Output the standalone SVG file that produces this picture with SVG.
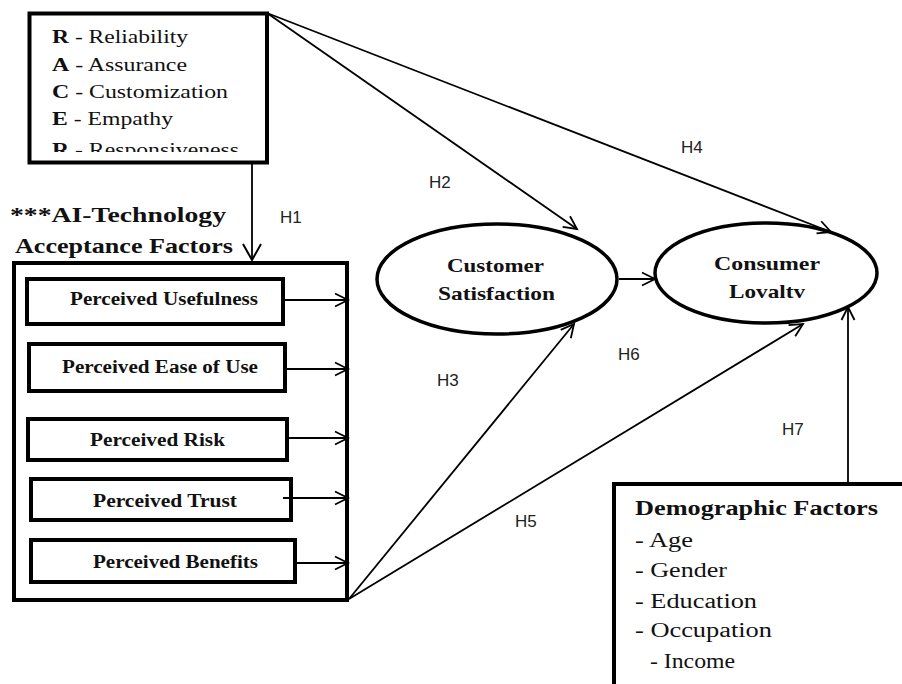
<svg xmlns="http://www.w3.org/2000/svg" width="902" height="684" viewBox="0 0 902 684">
<style>
.box{fill:#fff;stroke:#000;stroke-width:4}
.ell{fill:#fff;stroke:#000;stroke-width:3.5}
.ln{fill:none;stroke:#000;stroke-width:1.8}
.ser{font-family:"Liberation Serif","Times New Roman",serif;fill:#111}
.b{font-weight:bold}
.h{font-family:"Liberation Sans",Arial,sans-serif;font-size:17px;fill:#222}
</style>
<defs>
<marker id="ah" markerUnits="userSpaceOnUse" markerWidth="16" markerHeight="16" refX="14" refY="8" orient="auto" overflow="visible">
<path d="M1,1.5 L14,8 L1,14.5" fill="none" stroke="#000" stroke-width="1.8"/>
</marker>
<marker id="ahb" markerUnits="userSpaceOnUse" markerWidth="20" markerHeight="20" refX="17" refY="10" orient="auto" overflow="visible">
<path d="M1,1 L17,10 L1,19" fill="none" stroke="#000" stroke-width="2"/>
</marker>
<clipPath id="clipTop"><rect x="30" y="15" width="235" height="137"/></clipPath>
</defs>
<rect width="902" height="684" fill="#fff"/>

<g id="raceBox">
<rect class="box" x="29.5" y="13.5" width="237.5" height="149"/>
<g clip-path="url(#clipTop)" class="ser" font-size="18">
<text x="52" y="43" textLength="136" lengthAdjust="spacingAndGlyphs"><tspan class="b">R</tspan> - Reliability</text>
<text x="52" y="71" textLength="135" lengthAdjust="spacingAndGlyphs"><tspan class="b">A</tspan> - Assurance</text>
<text x="52" y="98" textLength="176" lengthAdjust="spacingAndGlyphs"><tspan class="b">C</tspan> - Customization</text>
<text x="52" y="125" textLength="121" lengthAdjust="spacingAndGlyphs"><tspan class="b">E</tspan> - Empathy</text>
<text x="52" y="156" textLength="187" lengthAdjust="spacingAndGlyphs"><tspan class="b">R</tspan> - Responsiveness</text>
</g>
</g>

<g id="aiTitle" class="ser b" font-size="21">
<text x="10" y="222" textLength="216" lengthAdjust="spacingAndGlyphs">***AI-Technology</text>
<text x="15" y="253" textLength="218" lengthAdjust="spacingAndGlyphs">Acceptance Factors</text>
</g>

<g id="aiBox">
<rect class="box" x="14" y="263" width="333" height="337"/>
</g>
<g id="usefulness">
<rect class="box" x="27" y="279" width="256" height="45"/>
<text class="ser b" font-size="18" x="70" y="305" textLength="188" lengthAdjust="spacingAndGlyphs">Perceived Usefulness</text>
</g>
<g id="easeOfUse">
<rect class="box" x="29" y="344" width="256" height="47"/>
<text class="ser b" font-size="18" x="62" y="373" textLength="196" lengthAdjust="spacingAndGlyphs">Perceived Ease of Use</text>
</g>
<g id="risk">
<rect class="box" x="28" y="419" width="259" height="41"/>
<text class="ser b" font-size="18" x="90" y="446" textLength="135" lengthAdjust="spacingAndGlyphs">Perceived Risk</text>
</g>
<g id="trust">
<rect class="box" x="31" y="479" width="260" height="41"/>
<text class="ser b" font-size="18" x="93" y="507" textLength="144" lengthAdjust="spacingAndGlyphs">Perceived Trust</text>
</g>
<g id="benefits">
<rect class="box" x="31" y="540" width="264" height="42"/>
<text class="ser b" font-size="18" x="93" y="568" textLength="165" lengthAdjust="spacingAndGlyphs">Perceived Benefits</text>
</g>

<g id="satisfaction">
<ellipse class="ell" cx="497" cy="279" rx="120" ry="55"/>
<text class="ser b" font-size="19" x="447" y="272" textLength="97" lengthAdjust="spacingAndGlyphs">Customer</text>
<text class="ser b" font-size="19" x="438" y="300" textLength="117" lengthAdjust="spacingAndGlyphs">Satisfaction</text>
</g>

<g id="loyalty">
<ellipse class="ell" cx="766" cy="273" rx="111" ry="50"/>
<text class="ser b" font-size="19" x="714" y="270" textLength="106" lengthAdjust="spacingAndGlyphs">Consumer</text>
<text class="ser b" font-size="19" x="729" y="298" textLength="76" lengthAdjust="spacingAndGlyphs">Lovaltv</text>
</g>

<g id="demographics">
<rect class="box" x="614" y="484" width="300" height="220"/>
<g class="ser" font-size="20">
<text class="b" x="635" y="515" textLength="243" lengthAdjust="spacingAndGlyphs">Demographic Factors</text>
<text x="635" y="547" textLength="58" lengthAdjust="spacingAndGlyphs">- Age</text>
<text x="635" y="577" textLength="92" lengthAdjust="spacingAndGlyphs">- Gender</text>
<text x="635" y="608" textLength="122" lengthAdjust="spacingAndGlyphs">- Education</text>
<text x="635" y="637" textLength="137" lengthAdjust="spacingAndGlyphs">- Occupation</text>
<text x="650" y="668" textLength="85" lengthAdjust="spacingAndGlyphs">- Income</text>
</g>
</g>

<g id="connectors">
<line class="ln" x1="252" y1="163" x2="252" y2="260" marker-end="url(#ahb)"/>
<line class="ln" x1="267" y1="13" x2="577" y2="229" marker-end="url(#ah)"/>
<line class="ln" x1="267" y1="13" x2="831" y2="232" marker-end="url(#ah)"/>
<line class="ln" x1="349" y1="599" x2="574" y2="324" marker-end="url(#ah)"/>
<line class="ln" x1="349" y1="599" x2="803" y2="324" marker-end="url(#ah)"/>
<line class="ln" x1="848" y1="482" x2="848" y2="307" marker-end="url(#ah)"/>
<line class="ln" x1="619" y1="279" x2="655" y2="279" marker-end="url(#ah)"/>
<line class="ln" x1="285" y1="300" x2="348" y2="300" marker-end="url(#ah)"/>
<line class="ln" x1="287" y1="369" x2="348" y2="369" marker-end="url(#ah)"/>
<line class="ln" x1="289" y1="438" x2="348" y2="438" marker-end="url(#ah)"/>
<line class="ln" x1="283" y1="498" x2="348" y2="498" marker-end="url(#ah)"/>
<line class="ln" x1="296" y1="563" x2="348" y2="563" marker-end="url(#ah)"/>
</g>

<g id="labels">
<text class="h" x="280" y="223">H1</text>
<text class="h" x="429" y="188">H2</text>
<text class="h" x="437" y="386">H3</text>
<text class="h" x="681" y="153">H4</text>
<text class="h" x="515" y="527">H5</text>
<text class="h" x="618" y="360">H6</text>
<text class="h" x="782" y="435">H7</text>
</g>
</svg>
